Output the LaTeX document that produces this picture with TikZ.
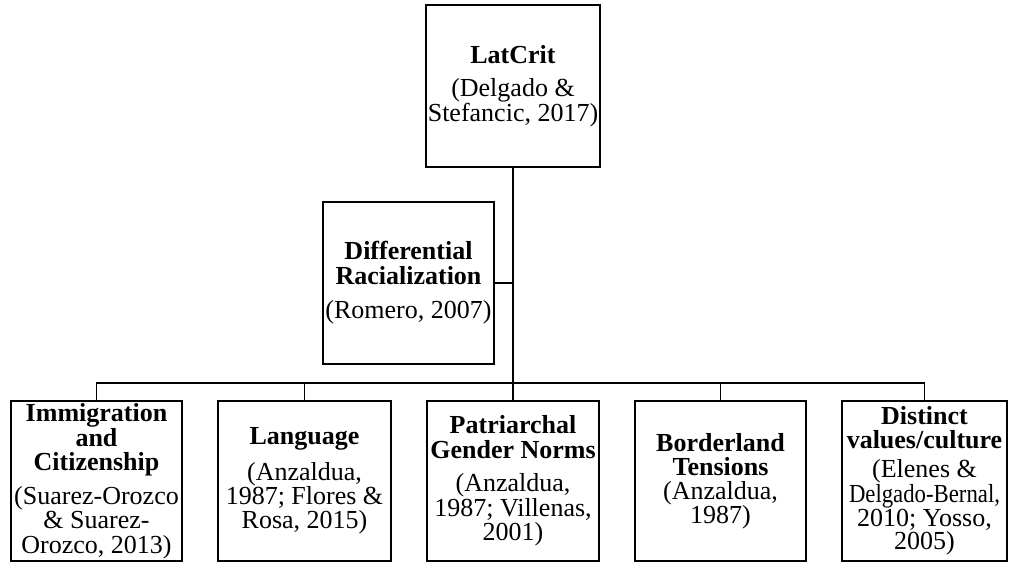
\documentclass[tikz,border=0pt]{standalone}
\usepackage{fontspec}
\setmainfont{Liberation Serif}
\begin{document}
\begin{tikzpicture}[x=1pt,y=-1pt,
  box/.style={draw=black, line width=1.8pt, inner sep=0pt, align=center,
    font=\fontsize{26}{24.5}\selectfont},
  conn/.style={draw=black, line width=1.8pt}]
\useasboundingbox (0,0) rectangle (1015,563);
\node[box, minimum width=174pt, minimum height=162pt] (top) at (513,86)
  {\textbf{LatCrit}\\[9pt](Delgado \&\\Stefancic, 2017)};
\node[box, minimum width=171pt, minimum height=162pt] (diff) at (408.5,283)
  {\textbf{Differential}\\\textbf{Racialization}\\[10pt](Romero, 2007)};
\node[box, minimum width=171pt, minimum height=160pt] (b1) at (96.5,481)
  {\textbf{Immigration}\\\textbf{and}\\\textbf{Citizenship}\\[9pt](Suarez-Orozco\\\& Suarez-\\Orozco, 2013)};
\node[box, minimum width=173pt, minimum height=160pt,
  font=\fontsize{26}{24}\selectfont] (b2) at (304.5,481)
  {\textbf{Language}\\[12pt](Anzaldua,\\1987; Flores \&\\Rosa, 2015)};
\node[box, minimum width=172pt, minimum height=160pt] (b3) at (513,481)
  {\textbf{Patriarchal}\\\textbf{Gender Norms}\\[9pt](Anzaldua,\\1987; Villenas,\\2001)};
\node[box, minimum width=171pt, minimum height=160pt,
  font=\fontsize{26}{24}\selectfont] (b4) at (720.5,481)
  {\textbf{Borderland}\\\textbf{Tensions}\\(Anzaldua,\\1987)};
\node[box, minimum width=165pt, minimum height=160pt,
  font=\fontsize{26}{23.5}\selectfont] (b5) at (924.5,481)
  {\textbf{Distinct}\\\textbf{values/culture}\\[6pt](Elenes \&\\\scalebox{0.875}[1]{Delgado-Bernal,}\\2010; Yosso,\\2005)};
\coordinate (bus) at (513,383);
\draw[conn] (top.south) -- (bus);
\draw[conn] (diff.east) -- (diff.east -| top.south);
\draw[conn] (b1.north) |- (bus) -| (b5.north);
\draw[conn] (b2.north) -- (b2.north |- bus);
\draw[conn] (b3.north) -- (bus);
\draw[conn] (b4.north) -- (b4.north |- bus);
\end{tikzpicture}
\end{document}
